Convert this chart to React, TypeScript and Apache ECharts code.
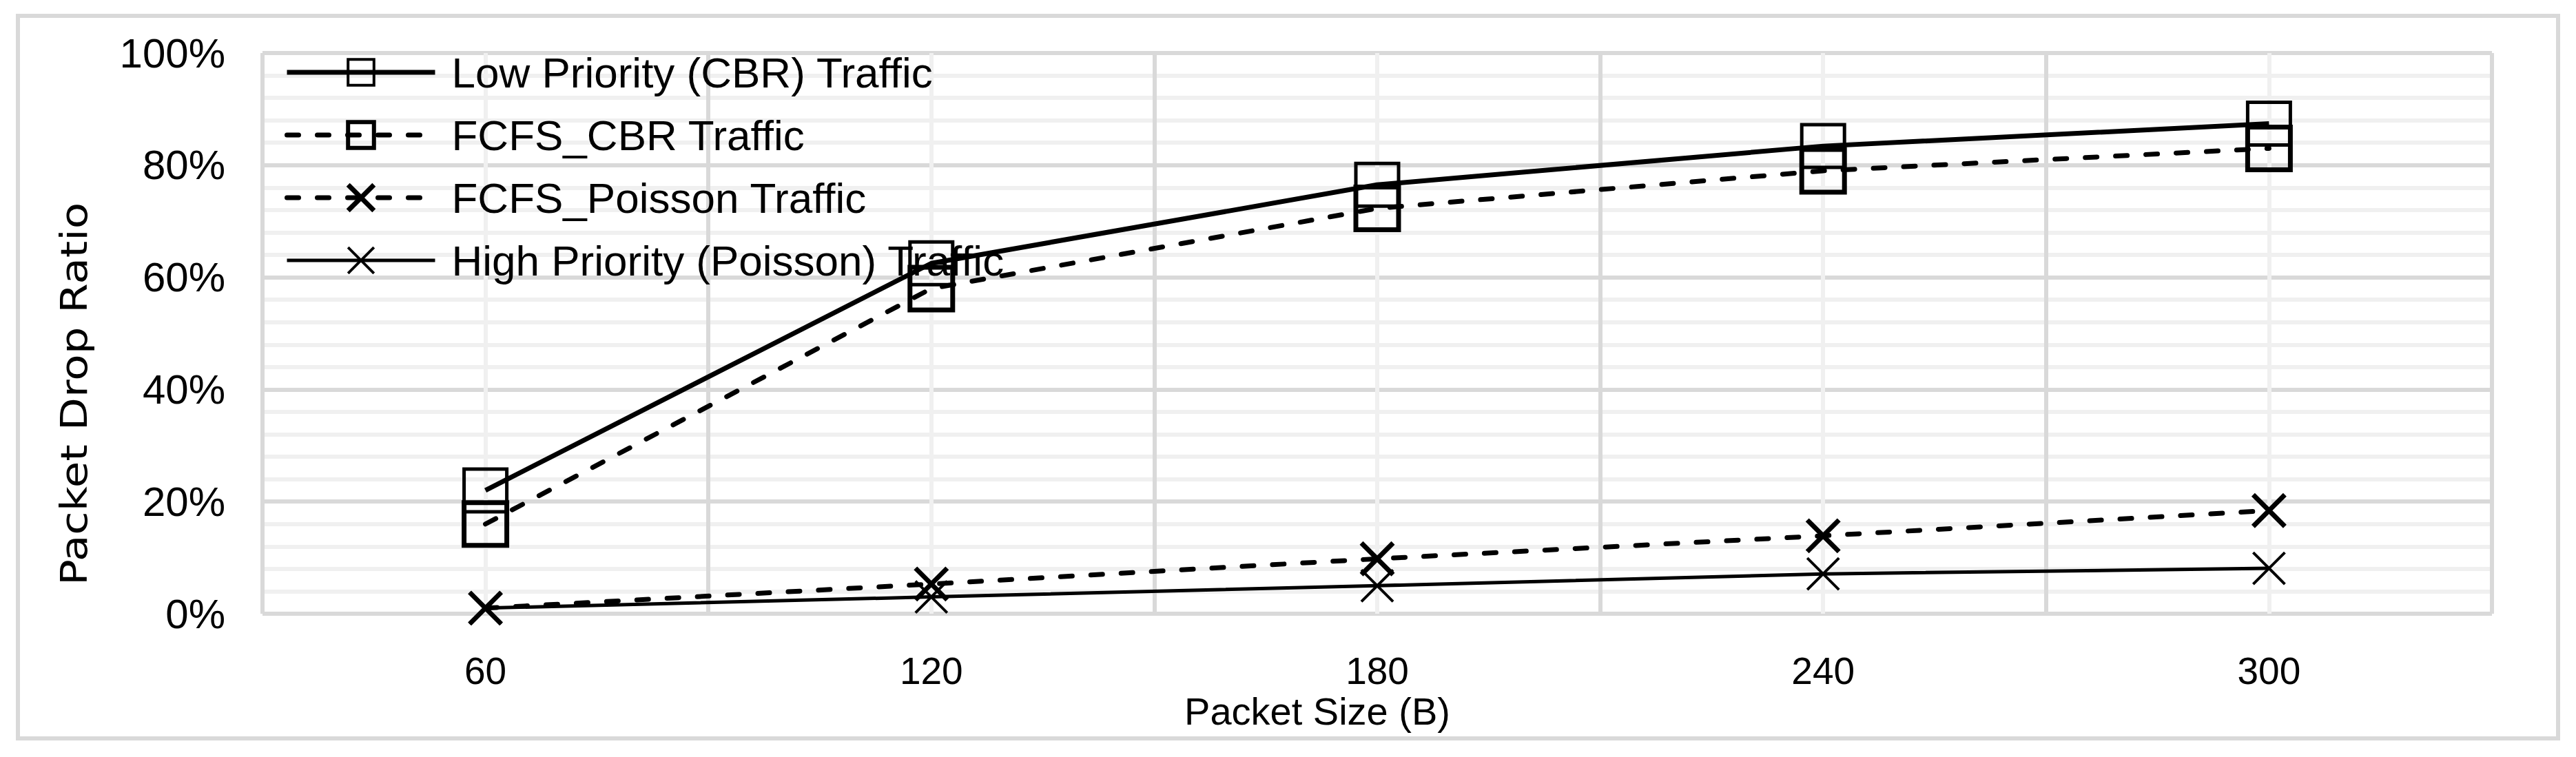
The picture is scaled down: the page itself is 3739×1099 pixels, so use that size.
import React, { useEffect, useRef } from 'react';
import * as echarts from 'echarts';

const categories = ['60', '120', '180', '240', '300'];
const seriesNames = [
  'Low Priority (CBR) Traffic',
  'FCFS_CBR Traffic',
  'FCFS_Poisson Traffic',
  'High Priority (Poisson) Traffic',
];
const lowPriorityCBR = [22, 62.5, 76.5, 83.4, 87.4];
const fcfsCBR = [16, 58, 72.3, 79, 83];
const fcfsPoisson = [1, 5.3, 9.8, 13.9, 18.4];
const highPriorityPoisson = [1, 3, 5, 7.1, 8.1];
const xAxisTitle = 'Packet Size (B)';
const yAxisTitle = 'Packet Drop Ratio';

const FONT = '"Liberation Sans", Arial, sans-serif';
const X_SYMBOL = 'path://M0,0L10,10M10,0L0,10';
const DASH = [17, 27];

export default function App() {
  const ref = useRef<HTMLDivElement>(null);

  useEffect(() => {
    if (!ref.current) return;
    const chart = echarts.init(ref.current, undefined, { renderer: 'svg' });
    const option: any = {
      animation: false,
      backgroundColor: '#ffffff',
      grid: { left: 381, right: 122, top: 77, bottom: 208, containLabel: false },
      xAxis: [
        {
          type: 'category',
          data: categories,
          boundaryGap: true,
          position: 'bottom',
          axisLine: { show: false },
          axisTick: { show: false },
          splitLine: { show: false },
          axisLabel: { fontSize: 55, fontFamily: FONT, color: '#000', margin: 55 },
        },
        {
          type: 'value',
          min: 0,
          max: 5,
          interval: 1,
          position: 'top',
          axisLine: { show: false },
          axisTick: { show: false },
          axisLabel: { show: false },
          splitLine: { show: true, lineStyle: { color: '#d9d9d9', width: 6 } },
          minorTick: { show: false, splitNumber: 2 },
          minorSplitLine: { show: true, lineStyle: { color: '#f0f0f0', width: 6 } },
        },
      ],
      yAxis: {
        type: 'value',
        min: 0,
        max: 100,
        interval: 20,
        axisLine: { show: false },
        axisTick: { show: false },
        axisLabel: {
          formatter: (v: number) => `${v}%`,
          fontSize: 60,
          fontFamily: FONT,
          color: '#000',
          margin: 54,
        },
        splitLine: { show: true, lineStyle: { color: '#d9d9d9', width: 6 } },
        minorTick: { show: false, splitNumber: 5 },
        minorSplitLine: { show: true, lineStyle: { color: '#f0f0f0', width: 6 } },
      },
      legend: {
        orient: 'vertical',
        left: 413,
        top: 74,
        padding: 0,
        itemWidth: 215,
        itemHeight: 47,
        itemGap: 29,
        selectedMode: false,
        textStyle: {
          fontSize: 62,
          fontFamily: FONT,
          color: '#000',
          padding: [0, 0, 0, 19],
        },
        data: [
          { name: seriesNames[0], itemStyle: { borderWidth: 4 }, lineStyle: { width: 7 } },
          { name: seriesNames[1], itemStyle: { borderWidth: 6 }, lineStyle: { width: 7 } },
          { name: seriesNames[2], itemStyle: { borderWidth: 7 }, lineStyle: { width: 7 } },
          { name: seriesNames[3], itemStyle: { borderWidth: 4 }, lineStyle: { width: 5 } },
        ],
      },
      series: [
        {
          name: seriesNames[0],
          type: 'line',
          data: lowPriorityCBR,
          symbol: 'rect',
          symbolSize: 62,
          lineStyle: { color: '#000', width: 7, type: 'solid' },
          itemStyle: { color: 'transparent', borderColor: '#000', borderWidth: 5 },
        },
        {
          name: seriesNames[1],
          type: 'line',
          data: fcfsCBR,
          symbol: 'rect',
          symbolSize: 62,
          lineStyle: { color: '#000', width: 7, type: DASH, cap: 'round' },
          itemStyle: { color: 'transparent', borderColor: '#000', borderWidth: 7 },
        },
        {
          name: seriesNames[2],
          type: 'line',
          data: fcfsPoisson,
          symbol: X_SYMBOL,
          symbolSize: 46,
          lineStyle: { color: '#000', width: 7, type: DASH, cap: 'round' },
          itemStyle: { color: 'transparent', borderColor: '#000', borderWidth: 7 },
        },
        {
          name: seriesNames[3],
          type: 'line',
          data: highPriorityPoisson,
          symbol: X_SYMBOL,
          symbolSize: 46,
          lineStyle: { color: '#000', width: 5, type: 'solid' },
          itemStyle: { color: 'transparent', borderColor: '#000', borderWidth: 4 },
        },
      ],
      graphic: [
        {
          type: 'rect',
          silent: true,
          shape: { x: 26, y: 23, width: 3687, height: 1049 },
          style: { fill: 'none', stroke: '#d9d9d9', lineWidth: 6 },
        },
        {
          type: 'text',
          silent: true,
          x: 1912,
          y: 1032,
          style: {
            text: xAxisTitle,
            fontSize: 56,
            fontFamily: FONT,
            fill: '#000',
            align: 'center',
            verticalAlign: 'middle',
          },
        },
        {
          type: 'text',
          silent: true,
          x: 108,
          y: 572,
          rotation: Math.PI / 2,
          scaleX: 1.16,
          style: {
            text: yAxisTitle,
            fontSize: 54,
            fontFamily: '"DejaVu Sans", sans-serif',
            fill: '#000',
            align: 'center',
            verticalAlign: 'middle',
          },
        },
      ],
    };
    chart.setOption(option);
    return () => chart.dispose();
  }, []);

  return (
    <div
      ref={ref}
      style={{ position: 'fixed', left: 0, top: 0, width: 3739, height: 1099, background: '#fff' }}
    />
  );
}
